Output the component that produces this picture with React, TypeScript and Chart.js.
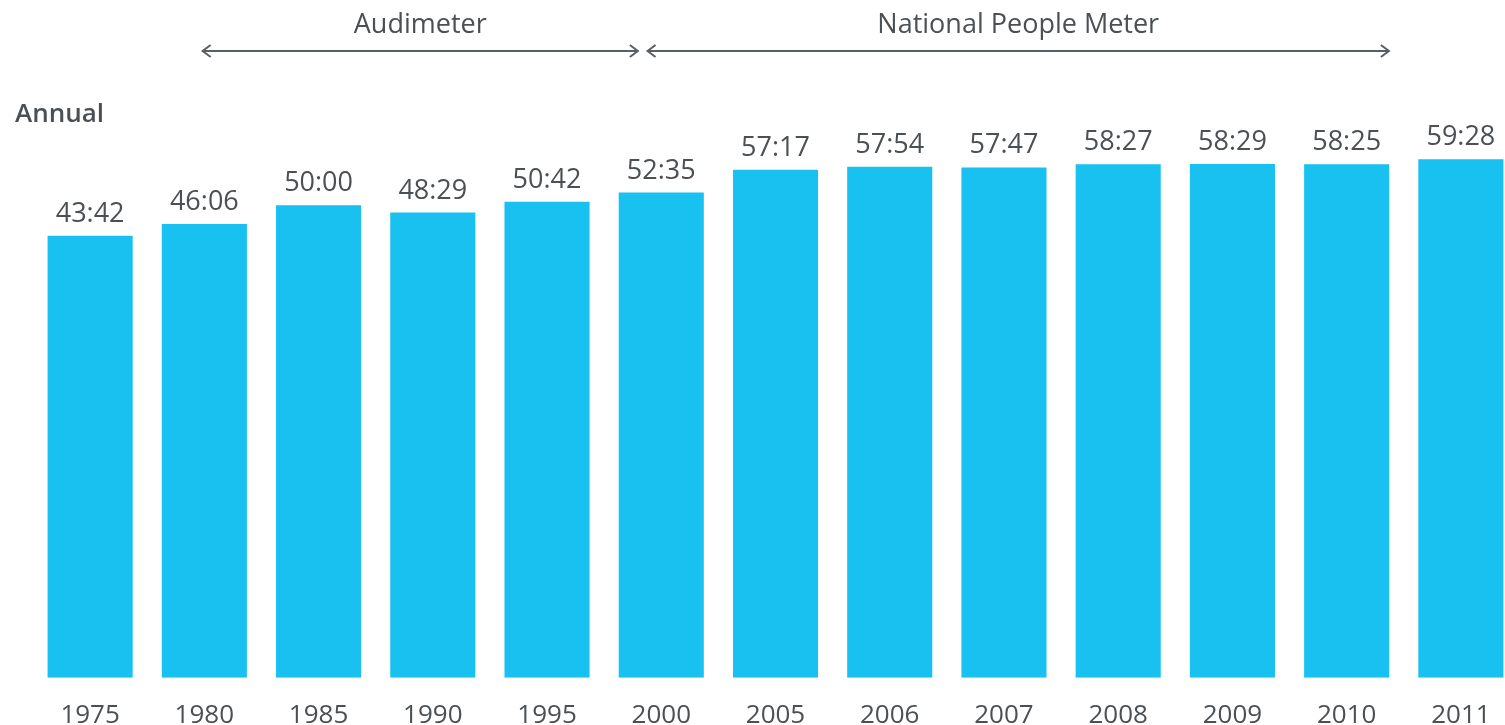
import React, { useEffect, useRef } from "react";
import { Chart, registerables } from "chart.js";

Chart.register(...registerables);

const years = ["1975", "1980", "1985", "1990", "1995", "2000", "2005", "2006", "2007", "2008", "2009", "2010", "2011"];
const valueLabels = ["43:42", "46:06", "50:00", "48:29", "50:42", "52:35", "57:17", "57:54", "57:47", "58:27", "58:29", "58:25", "59:28"];
// minutes per value (hours*60 + minutes)
const minutes = [2622, 2766, 3000, 2909, 3042, 3155, 3437, 3474, 3467, 3507, 3509, 3505, 3568];
const axisMin = -2842;
const axisMax = 3929;
const periods = [
  { label: "Audimeter", from: 0.985, to: 4.795 },
  { label: "National People Meter", from: 4.88, to: 11.37 },
];
const sectionTitle = "Annual";

const BAR = "#19c1f1";
const TEXT = "#4b5055";
const FONT = "'Open Sans', sans-serif";

const overlayPlugin = {
  id: "overlay",
  afterDatasetsDraw(chart: any) {
    const ctx = chart.ctx;
    const meta = chart.getDatasetMeta(0);
    ctx.save();
    ctx.fillStyle = TEXT;
    ctx.font = `400 27px ${FONT}`;
    ctx.textAlign = "center";
    ctx.textBaseline = "alphabetic";
    meta.data.forEach((el: any, i: number) => {
      ctx.fillText(valueLabels[i], el.x, el.y - 14);
    });
    // section title
    ctx.textAlign = "left";
    ctx.font = `600 26px ${FONT}`;
    ctx.fillText(sectionTitle, 15, 122);
    // period arrows
    const xs = chart.scales.x;
    const ay = 51;
    ctx.strokeStyle = "#5a5f63";
    ctx.lineWidth = 2;
    periods.forEach((p) => {
      const x1 = xs.getPixelForValue(p.from);
      const x2 = xs.getPixelForValue(p.to);
      ctx.beginPath();
      ctx.moveTo(x1, ay);
      ctx.lineTo(x2, ay);
      ctx.moveTo(x1 + 8, ay - 6);
      ctx.lineTo(x1, ay);
      ctx.lineTo(x1 + 8, ay + 6);
      ctx.moveTo(x2 - 8, ay - 6);
      ctx.lineTo(x2, ay);
      ctx.lineTo(x2 - 8, ay + 6);
      ctx.stroke();
      ctx.textAlign = "center";
      ctx.font = `400 27px ${FONT}`;
      ctx.fillText(p.label, (x1 + x2) / 2, 33);
    });
    ctx.restore();
  },
};

export default function App() {
  const ref = useRef<HTMLCanvasElement>(null);
  useEffect(() => {
    if (!ref.current) return;
    const chart = new Chart(ref.current, {
      type: "bar",
      data: {
        labels: years,
        datasets: [
          {
            data: minutes,
            backgroundColor: BAR,
            base: axisMin,
            categoryPercentage: 1,
            barPercentage: 0.745,
          } as any,
        ],
      },
      options: {
        animation: false,
        responsive: false,
        maintainAspectRatio: false,
        layout: { padding: { left: 33, right: 2, top: 130, bottom: -28 } },
        plugins: { legend: { display: false }, tooltip: { enabled: false } },
        scales: {
          x: {
            offset: true,
            grid: { display: false, drawTicks: false },
            border: { display: false },
            ticks: { color: TEXT, font: { family: FONT, size: 26 }, padding: 22 },
          },
          y: { display: false, min: axisMin, max: axisMax },
        },
      },
      plugins: [overlayPlugin],
    });
    return () => chart.destroy();
  }, []);
  return (
    <div style={{ position: "fixed", left: 0, top: 0, width: 1505, height: 725, overflow: "hidden", background: "#fff" }}>
      <canvas ref={ref} width={1520} height={725} style={{ width: 1520, height: 725, display: "block" }} />
    </div>
  );
}
